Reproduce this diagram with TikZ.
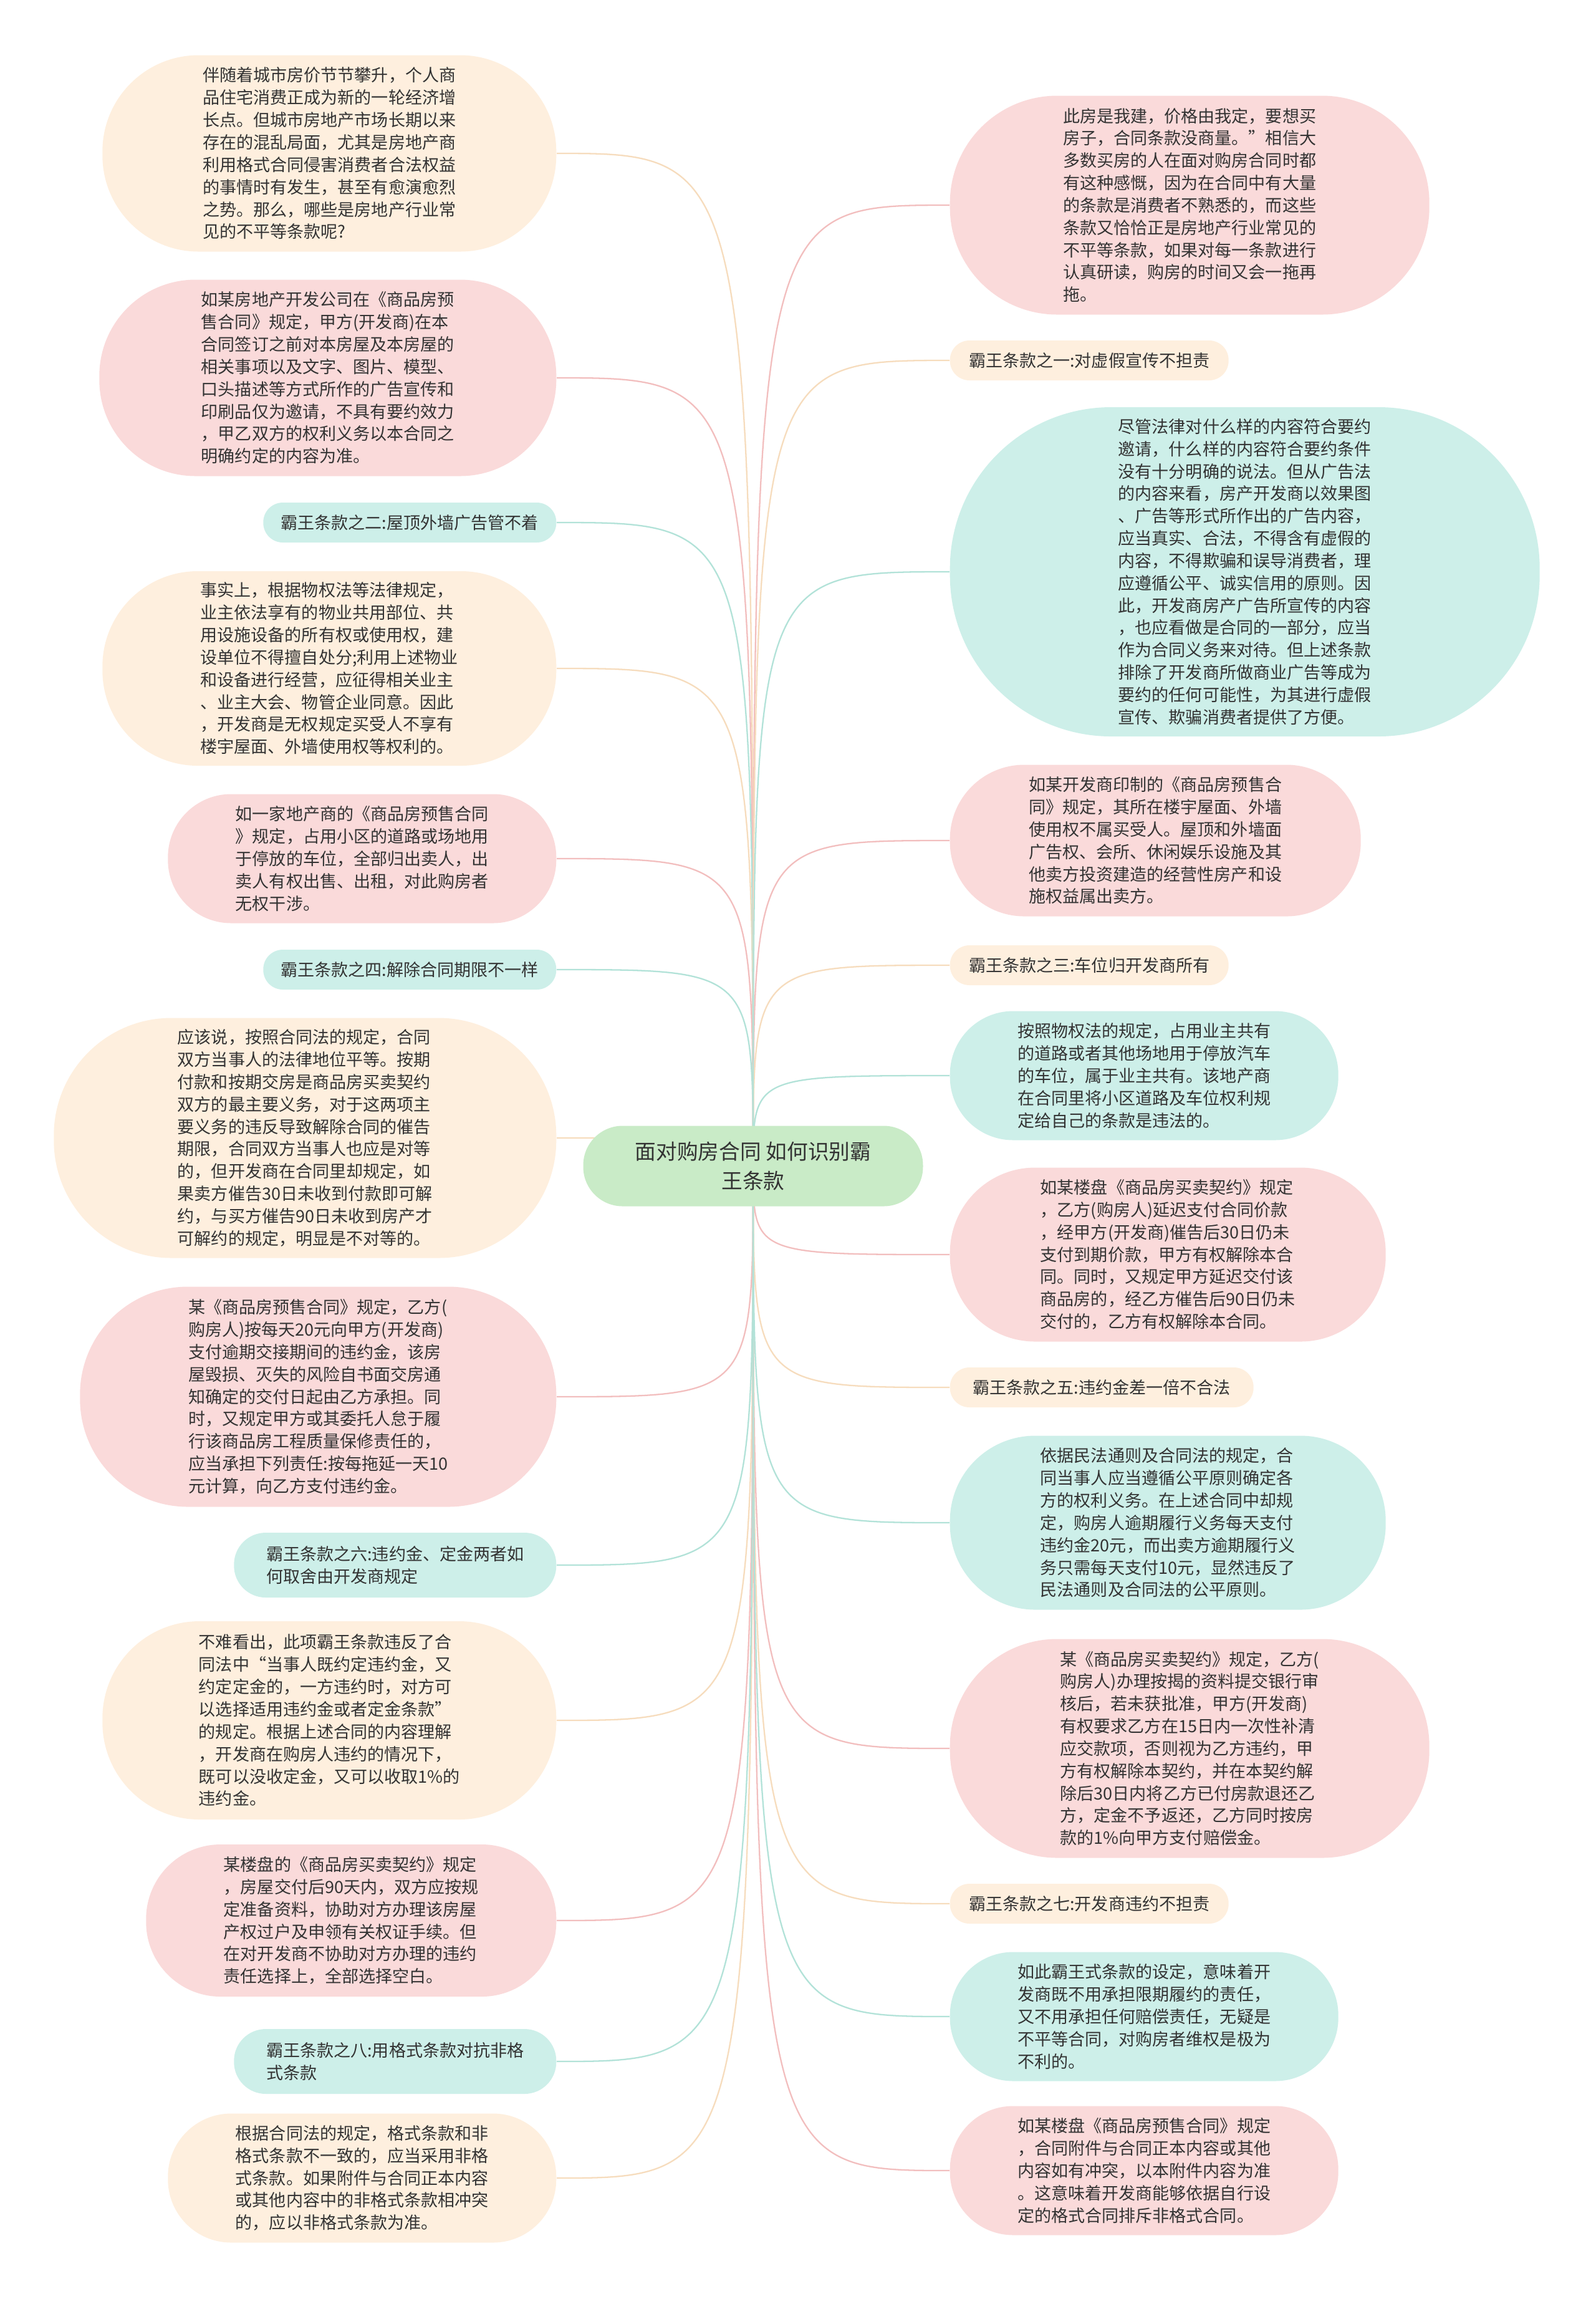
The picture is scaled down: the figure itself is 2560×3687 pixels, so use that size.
\documentclass[tikz,border=0pt]{standalone}
\usepackage{fontspec}
\setmainfont{Noto Sans CJK SC}
\usepackage{xcolor}
\usepackage{tikz}
\usetikzlibrary{backgrounds}
\definecolor{colPeach}{HTML}{FEEFDE}
\definecolor{colPink}{HTML}{FADADA}
\definecolor{colTeal}{HTML}{CDEFE9}
\definecolor{colRoot}{HTML}{C9EBC7}
\definecolor{linePeach}{HTML}{F6DCBD}
\definecolor{linePink}{HTML}{F2BEBE}
\definecolor{lineTeal}{HTML}{B2E2D8}
\definecolor{colText}{HTML}{333333}

\newcommand{\leaffont}{\fontsize{7.7pt}{10.2pt}\selectfont}
\newcommand{\rootfont}{\fontsize{9.6pt}{13.3pt}\selectfont}

\tikzset{
  leaf/.style={inner sep=0pt, align=left, text=colText, font=\leaffont},
  sz/.style 2 args={minimum width=#1*0.1mm, minimum height=#2*0.1mm,
                    rounded corners=#2*0.049mm},
  peachleaf/.style={leaf, fill=colPeach},
  pinkleaf/.style={leaf, fill=colPink},
  tealleaf/.style={leaf, fill=colTeal},
  lk/.style={line width=0.65pt},
}

\begin{document}
\begin{tikzpicture}[x=0.1mm, y=-0.1mm]

\useasboundingbox (0,0) rectangle (2560,3687);

% Noeud central
\node[sz={545}{129}, fill=colRoot, text=colText, font=\rootfont, align=center, inner sep=0pt]
    (root) at (1208,1870) {面对购房合同 如何识别霸\\王条款};

% Branches gauche
\node[peachleaf, sz={728}{315}, anchor=east] (l1) at (893,246) {%
伴随着城市房价节节攀升，个人商\\品住宅消费正成为新的一轮经济增\\长点。但城市房地产市场长期以来\\存在的混乱局面，尤其是房地产商\\利用格式合同侵害消费者合法权益\\的事情时有发生，甚至有愈演愈烈\\之势。那么，哪些是房地产行业常\\见的不平等条款呢?};
\node[pinkleaf, sz={733}{315}, anchor=east] (l2) at (893,606) {%
如某房地产开发公司在《商品房预\\售合同》规定，甲方(开发商)在本\\合同签订之前对本房屋及本房屋的\\相关事项以及文字、图片、模型、\\口头描述等方式所作的广告宣传和\\印刷品仅为邀请，不具有要约效力\\，甲乙双方的权利义务以本合同之\\明确约定的内容为准。};
\node[tealleaf, sz={470}{64}, anchor=east] (l3) at (893,838) {霸王条款之二:屋顶外墙广告管不着};
\node[peachleaf, sz={728}{312}, anchor=east] (l4) at (893,1072) {%
事实上，根据物权法等法律规定，\\业主依法享有的物业共用部位、共\\用设施设备的所有权或使用权，建\\设单位不得擅自处分;利用上述物业\\和设备进行经营，应征得相关业主\\、业主大会、物管企业同意。因此\\，开发商是无权规定买受人不享有\\楼宇屋面、外墙使用权等权利的。};
\node[pinkleaf, sz={623}{207}, anchor=east] (l5) at (893,1377) {%
如一家地产商的《商品房预售合同\\》规定，占用小区的道路或场地用\\于停放的车位，全部归出卖人，出\\卖人有权出售、出租，对此购房者\\无权干涉。};
\node[tealleaf, sz={470}{64}, anchor=east] (l6) at (893,1555) {霸王条款之四:解除合同期限不一样};
\node[peachleaf, sz={806}{385}, anchor=east] (l7) at (893,1825) {%
应该说，按照合同法的规定，合同\\双方当事人的法律地位平等。按期\\付款和按期交房是商品房买卖契约\\双方的最主要义务，对于这两项主\\要义务的违反导致解除合同的催告\\期限，合同双方当事人也应是对等\\的，但开发商在合同里却规定，如\\果卖方催告30日未收到付款即可解\\约，与买方催告90日未收到房产才\\可解约的规定，明显是不对等的。};
\node[pinkleaf, sz={764}{353}, anchor=east] (l8) at (893,2240) {%
某《商品房预售合同》规定，乙方(\\购房人)按每天20元向甲方(开发商)\\支付逾期交接期间的违约金，该房\\屋毁损、灭失的风险自书面交房通\\知确定的交付日起由乙方承担。同\\时，又规定甲方或其委托人怠于履\\行该商品房工程质量保修责任的，\\应当承担下列责任:按每拖延一天10\\元计算，向乙方支付违约金。};
\node[tealleaf, sz={517}{104}, anchor=east] (l9) at (893,2510) {%
霸王条款之六:违约金、定金两者如\\何取舍由开发商规定};
\node[peachleaf, sz={728}{318}, anchor=east] (l10) at (893,2759) {%
不难看出，此项霸王条款违反了合\\同法中“当事人既约定违约金，又\\约定定金的，一方违约时，对方可\\以选择适用违约金或者定金条款”\\的规定。根据上述合同的内容理解\\，开发商在购房人违约的情况下，\\既可以没收定金，又可以收取1\%的\\违约金。};
\node[pinkleaf, sz={658}{244}, anchor=east] (l11) at (893,3080) {%
某楼盘的《商品房买卖契约》规定\\，房屋交付后90天内，双方应按规\\定准备资料，协助对方办理该房屋\\产权过户及申领有关权证手续。但\\在对开发商不协助对方办理的违约\\责任选择上，全部选择空白。};
\node[tealleaf, sz={517}{104}, anchor=east] (l12) at (893,3306) {%
霸王条款之八:用格式条款对抗非格\\式条款};
\node[peachleaf, sz={623}{207}, anchor=east] (l13) at (893,3493) {%
根据合同法的规定，格式条款和非\\格式条款不一致的，应当采用非格\\式条款。如果附件与合同正本内容\\或其他内容中的非格式条款相冲突\\的，应以非格式条款为准。};

% Branches droite
\node[pinkleaf, sz={769}{351}, anchor=west] (r1) at (1523,329) {%
此房是我建，价格由我定，要想买\\房子，合同条款没商量。”相信大\\多数买房的人在面对购房合同时都\\有这种感慨，因为在合同中有大量\\的条款是消费者不熟悉的，而这些\\条款又恰恰正是房地产行业常见的\\不平等条款，如果对每一条款进行\\认真研读，购房的时间又会一拖再\\拖。};
\node[peachleaf, sz={447}{64}, anchor=west] (r2) at (1523,578) {霸王条款之一:对虚假宣传不担责};
\node[tealleaf, sz={946}{528}, anchor=west] (r3) at (1523,917) {%
尽管法律对什么样的内容符合要约\\邀请，什么样的内容符合要约条件\\没有十分明确的说法。但从广告法\\的内容来看，房产开发商以效果图\\、广告等形式所作出的广告内容，\\应当真实、合法，不得含有虚假的\\内容，不得欺骗和误导消费者，理\\应遵循公平、诚实信用的原则。因\\此，开发商房产广告所宣传的内容\\，也应看做是合同的一部分，应当\\作为合同义务来对待。但上述条款\\排除了开发商所做商业广告等成为\\要约的任何可能性，为其进行虚假\\宣传、欺骗消费者提供了方便。};
\node[pinkleaf, sz={659}{243}, anchor=west] (r4) at (1523,1348) {%
如某开发商印制的《商品房预售合\\同》规定，其所在楼宇屋面、外墙\\使用权不属买受人。屋顶和外墙面\\广告权、会所、休闲娱乐设施及其\\他卖方投资建造的经营性房产和设\\施权益属出卖方。};
\node[peachleaf, sz={447}{64}, anchor=west] (r5) at (1523,1548) {霸王条款之三:车位归开发商所有};
\node[tealleaf, sz={623}{207}, anchor=west] (r6) at (1523,1725) {%
按照物权法的规定，占用业主共有\\的道路或者其他场地用于停放汽车\\的车位，属于业主共有。该地产商\\在合同里将小区道路及车位权利规\\定给自己的条款是违法的。};
\node[pinkleaf, sz={699}{279}, anchor=west] (r7) at (1523,2012) {%
如某楼盘《商品房买卖契约》规定\\，乙方(购房人)延迟支付合同价款\\，经甲方(开发商)催告后30日仍未\\支付到期价款，甲方有权解除本合\\同。同时，又规定甲方延迟交付该\\商品房的，经乙方催告后90日仍未\\交付的，乙方有权解除本合同。};
\node[peachleaf, sz={487}{64}, anchor=west] (r8) at (1523,2225) {霸王条款之五:违约金差一倍不合法};
\node[tealleaf, sz={699}{279}, anchor=west] (r9) at (1523,2442) {%
依据民法通则及合同法的规定，合\\同当事人应当遵循公平原则确定各\\方的权利义务。在上述合同中却规\\定，购房人逾期履行义务每天支付\\违约金20元，而出卖方逾期履行义\\务只需每天支付10元，显然违反了\\民法通则及合同法的公平原则。};
\node[pinkleaf, sz={769}{351}, anchor=west] (r10) at (1523,2804) {%
某《商品房买卖契约》规定，乙方(\\购房人)办理按揭的资料提交银行审\\核后，若未获批准，甲方(开发商)\\有权要求乙方在15日内一次性补清\\应交款项，否则视为乙方违约，甲\\方有权解除本契约，并在本契约解\\除后30日内将乙方已付房款退还乙\\方，定金不予返还，乙方同时按房\\款的1\%向甲方支付赔偿金。};
\node[peachleaf, sz={447}{64}, anchor=west] (r11) at (1523,3053) {霸王条款之七:开发商违约不担责};
\node[tealleaf, sz={623}{207}, anchor=west] (r12) at (1523,3234) {%
如此霸王式条款的设定，意味着开\\发商既不用承担限期履约的责任，\\又不用承担任何赔偿责任，无疑是\\不平等合同，对购房者维权是极为\\不利的。};
\node[pinkleaf, sz={623}{207}, anchor=west] (r13) at (1523,3481) {%
如某楼盘《商品房预售合同》规定\\，合同附件与合同正本内容或其他\\内容如有冲突，以本附件内容为准\\。这意味着开发商能够依据自行设\\定的格式合同排斥非格式合同。};

% Liens (derriere les noeuds)
\begin{scope}[on background layer]
\foreach \n in {l1,l4,l7,l10,l13}
    \draw[lk, linePeach] (root.center) .. controls (root.center |- \n.east) .. (\n.east);
\foreach \n in {l2,l5,l8,l11}
    \draw[lk, linePink] (root.center) .. controls (root.center |- \n.east) .. (\n.east);
\foreach \n in {l3,l6,l9,l12}
    \draw[lk, lineTeal] (root.center) .. controls (root.center |- \n.east) .. (\n.east);
\foreach \n in {r1,r4,r7,r10,r13}
    \draw[lk, linePink] (root.center) .. controls (root.center |- \n.west) .. (\n.west);
\foreach \n in {r2,r5,r8,r11}
    \draw[lk, linePeach] (root.center) .. controls (root.center |- \n.west) .. (\n.west);
\foreach \n in {r3,r6,r9,r12}
    \draw[lk, lineTeal] (root.center) .. controls (root.center |- \n.west) .. (\n.west);
\end{scope}

\end{tikzpicture}
\end{document}
